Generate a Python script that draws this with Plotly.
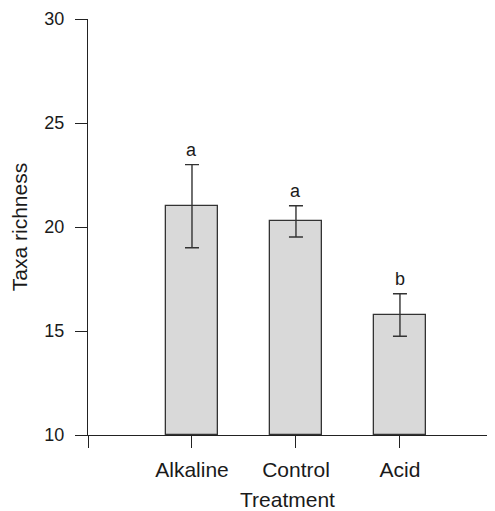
import plotly.graph_objects as go

categories = ["Alkaline", "Control", "Acid"]
means = [21.0, 20.27, 15.77]
errors = [2.0, 0.75, 1.02]
letters = ["a", "a", "b"]
y_ticks = [10, 15, 20, 25, 30]

xpos = [i + 1 for i in range(len(categories))]
font = "Liberation Sans, Arial, Helvetica, sans-serif"
col = "#1a1a1a"
f_big = dict(family=font, size=21, color=col)
f_small = dict(family=font, size=18, color=col)

fig = go.Figure()
fig.add_trace(go.Bar(
    x=xpos, y=[m - 10 for m in means], base=10, width=0.5,
    marker=dict(color="#d9d9d9", line=dict(color="#333333", width=1.3)),
    error_y=dict(type="data", array=errors, visible=True, color="#333333",
                 thickness=1.4, width=7),
    showlegend=False, hoverinfo="skip",
))

for x, m, e, t in zip(xpos, means, errors, letters):
    fig.add_annotation(x=x, y=m + e, text=t, showarrow=False,
                       yanchor="bottom", yshift=3, font=f_small)

fig.update_layout(
    width=479, height=503,
    margin=dict(l=80, r=0, t=11, b=76, autoexpand=False),
    plot_bgcolor="white", paper_bgcolor="white",
    font=f_small,
    bargap=0,
)
fig.update_xaxes(
    range=[0, 3.837], tickvals=[0] + xpos, ticktext=[""] + categories,
    tickfont=f_big, automargin=False,
    showline=True, linecolor="#222222", linewidth=1.3,
    ticks="outside", ticklen=12, tickcolor="#222222", tickwidth=1.3,
    showgrid=False, zeroline=False, ticklabelstandoff=4,
    title=dict(text="Treatment", standoff=17, font=f_big),
)
fig.update_yaxes(
    range=[10, 30], tickvals=y_ticks,
    tickfont=f_small, automargin=False,
    showline=True, linecolor="#222222", linewidth=1.3,
    ticks="outside", ticklen=12, tickcolor="#222222", tickwidth=1.3,
    showgrid=False, zeroline=False, ticklabelstandoff=7,
    title=dict(text="Taxa richness", standoff=14, font=f_big),
)

fig.write_html("out.html")
